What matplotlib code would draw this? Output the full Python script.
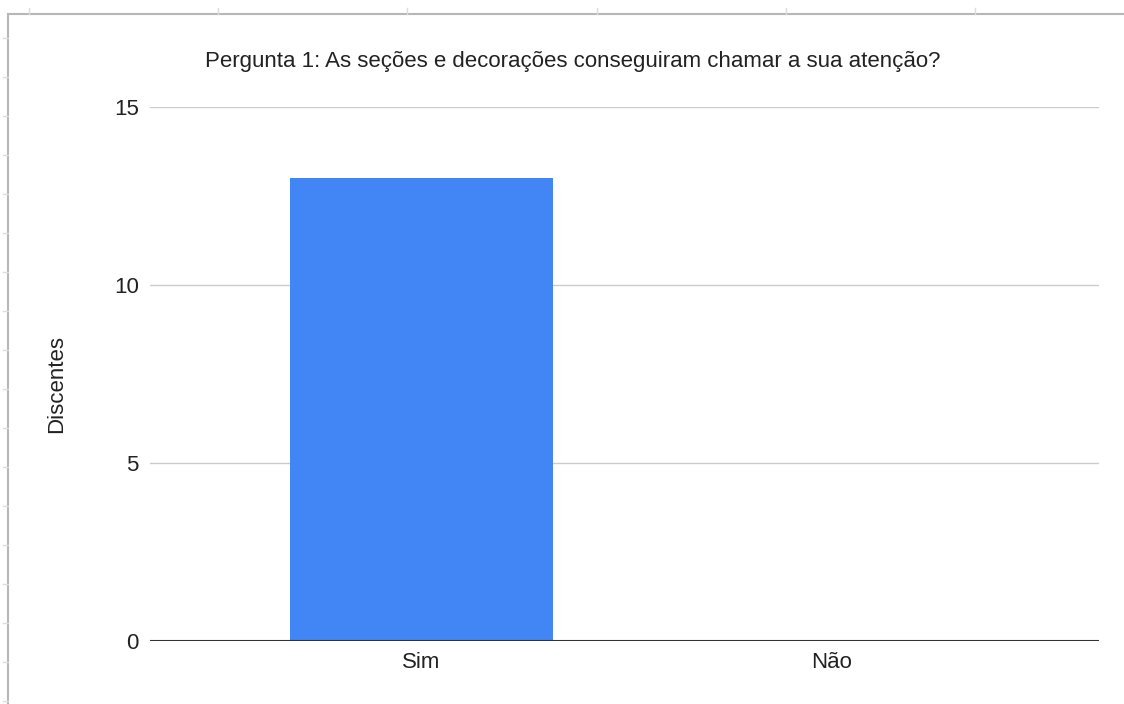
import matplotlib
matplotlib.use("Agg")
import matplotlib.pyplot as plt
from matplotlib.lines import Line2D

# Data
categories = ["Sim", "Não"]
discentes = [13, 0]
yticks = [0, 5, 10, 15]

title = "Pergunta 1: As seções e decorações conseguiram chamar a sua atenção?"
ylabel = "Discentes"

plt.rcParams['font.family'] = ['Liberation Sans', 'DejaVu Sans']

W, H = 1124, 704
fig = plt.figure(figsize=(W / 100, H / 100), dpi=100)

# spreadsheet frame around the embedded chart
def px(x, y):
    return x / W, 1 - y / H

grey = "#b7b7b7"
fig.add_artist(Line2D([px(8, 0)[0], 1], [px(0, 14)[1]] * 2, color=grey, lw=1.5))
fig.add_artist(Line2D([px(8, 0)[0]] * 2, [px(0, 14)[1], 0], color=grey, lw=1.5))
for x in [29, 218, 407, 597, 786, 975]:
    fig.add_artist(Line2D([px(x, 0)[0]] * 2, [px(0, 8)[1], px(0, 14)[1]], color="#dddddd", lw=1))
for y in range(38, 704, 39):
    fig.add_artist(Line2D([px(3, 0)[0], px(8, 0)[0]], [px(0, y)[1]] * 2, color="#dddddd", lw=1))

# Plot area
ax = fig.add_axes([150 / W, 63 / H, 949 / W, 534 / H])
x = list(range(len(categories)))
ax.bar(x, discentes, width=0.64, color="#4285f4", zorder=3)

ax.set_xlim(-0.661, 1.651)
ax.set_ylim(0, 15)
ax.set_yticks(yticks)
ax.set_xticks(x)
ax.set_xticklabels(categories)
ax.tick_params(length=0, labelsize=16, colors="#222222")
ax.tick_params(axis="y", pad=8)
ax.tick_params(axis="x", pad=8)
ax.grid(axis="y", color="#cccccc", lw=1, zorder=0)
ax.axhline(0, color="#333333", lw=1.5, zorder=4)
for s in ax.spines.values():
    s.set_visible(False)

fig.text(57 / W, 1 - 384 / H, ylabel, rotation=90, ha="center", va="center",
         fontsize=16, color="#222222")
fig.text(573 / W, 1 - 62 / H, title, ha="center", va="center",
         fontsize=16, color="#222222")

fig.savefig("out.png", dpi=100)
